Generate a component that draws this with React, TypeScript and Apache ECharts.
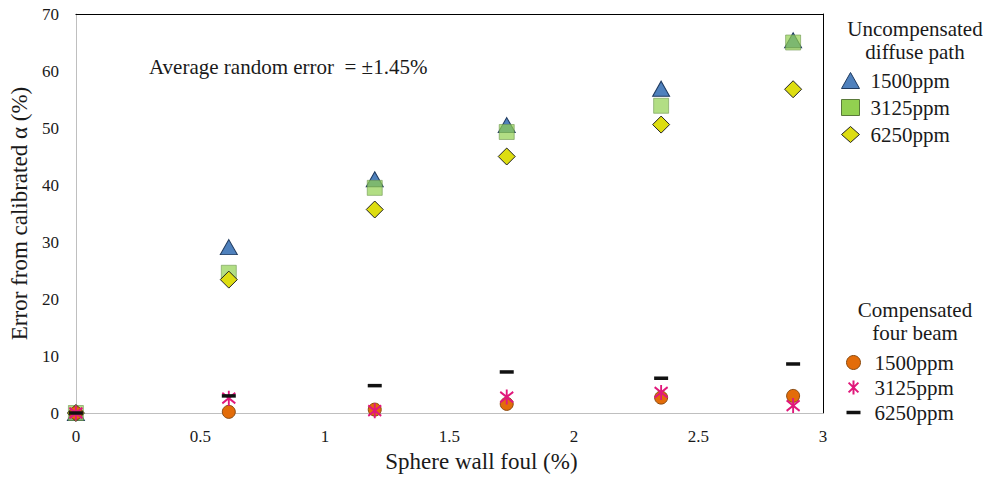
import React, { useEffect, useRef } from 'react';
import * as echarts from 'echarts';

const foul = [0, 0.614, 1.2, 1.73, 2.35, 2.88];
const uncomp1500 = [0, 29.1, 41.0, 50.5, 56.9, 65.4];
const uncomp3125 = [0, 24.6, 39.5, 49.3, 53.9, 65.0];
const uncomp6250 = [0, 23.4, 35.7, 45.0, 50.6, 56.8];
const comp1500 = [0, 0.2, 0.6, 1.6, 2.7, 3.0];
const comp3125 = [0, 2.6, 0.4, 2.8, 3.6, 1.3];
const comp6250 = [0, 3.0, 4.8, 7.2, 6.1, 8.6];

const uncompTitle = ['Uncompensated', 'diffuse path'];
const compTitle = ['Compensated', 'four beam'];
const noteText = 'Average random error  = ±1.45%';
const xTitle = 'Sphere wall foul (%)';
const yTitle = 'Error from calibrated α (%)';

const FONT = '"Liberation Serif", "Times New Roman", serif';
const STAR = 'path://M0,-10L0,10M-7,-7L7,7M-7,7L7,-7';
const DASH = 'path://M0,0L12,0L12,3L0,3Z';

const pts = (ys: number[]) => foul.map((x, i) => [x, ys[i]]);

export default function App() {
  const ref = useRef<HTMLDivElement>(null);
  useEffect(() => {
    if (!ref.current) return;
    document.body.style.margin = '0';
    const chart = echarts.init(ref.current, null, { renderer: 'svg' });
    const labelStyle = { fontFamily: FONT, fontSize: 17, color: '#1a1a1a' };
    const titleStyle = { fontFamily: FONT, fontSize: 21, fill: '#1a1a1a', align: 'center', verticalAlign: 'middle' };
    chart.setOption({
      animation: false,
      backgroundColor: '#fff',
      grid: { left: 71, top: 14, right: 164, bottom: 66 },
      xAxis: [
        {
          type: 'value', min: 0, max: 3, interval: 0.5, position: 'bottom',
          name: xTitle, nameLocation: 'middle', nameGap: 37,
          nameTextStyle: { fontFamily: FONT, fontSize: 23, color: '#1a1a1a', padding: [0, 0, 0, 64] },
          axisLine: { show: true, onZero: false, lineStyle: { color: '#bfbfbf', width: 1 } },
          axisTick: { show: false },
          axisLabel: { ...labelStyle, margin: 15 },
          splitLine: { show: false },
        },
        {
          type: 'value', min: 0, max: 3, position: 'top',
          axisLine: { show: true, onZero: false, lineStyle: { color: '#000', width: 1 } },
          axisTick: { show: false }, axisLabel: { show: false }, splitLine: { show: false },
        },
      ],
      yAxis: [
        {
          type: 'value', min: 0, max: 70, interval: 10, position: 'left',
          name: yTitle, nameLocation: 'middle', nameGap: 36,
          nameTextStyle: { fontFamily: FONT, fontSize: 23, color: '#1a1a1a' },
          axisLine: { show: true, onZero: false, lineStyle: { color: '#bfbfbf', width: 1 } },
          axisTick: { show: false },
          axisLabel: { ...labelStyle, margin: 17 },
          splitLine: { show: false },
        },
        {
          type: 'value', min: 0, max: 70, position: 'right',
          axisLine: { show: true, onZero: false, lineStyle: { color: '#000', width: 1 } },
          axisTick: { show: false }, axisLabel: { show: false }, splitLine: { show: false },
        },
      ],
      legend: [
        {
          orient: 'vertical', left: 841, top: 70, padding: 0,
          itemWidth: 18, itemHeight: 16, itemGap: 6,
          selectedMode: false,
          textStyle: { fontFamily: FONT, fontSize: 21, lineHeight: 20, color: '#1a1a1a', padding: [0, 0, 0, 6] },
          formatter: (n: string) => n.split(' ')[0],
          data: [
            { name: '1500ppm uncomp', itemStyle: { borderWidth: 1 } },
            { name: '3125ppm uncomp', itemStyle: { color: '#92D050', borderColor: '#5a7a3a', borderWidth: 1 } },
            { name: '6250ppm uncomp', itemStyle: { borderWidth: 1 } },
          ],
        },
        {
          orient: 'vertical', left: 846, top: 352, padding: 0,
          itemWidth: 14, itemHeight: 14, itemGap: 4,
          selectedMode: false,
          textStyle: { fontFamily: FONT, fontSize: 21, lineHeight: 20, color: '#1a1a1a', padding: [0, 0, 0, 9] },
          formatter: (n: string) => n.split(' ')[0],
          data: [
            { name: '1500ppm comp', itemStyle: { borderWidth: 1 } },
            { name: '3125ppm comp', icon: STAR, itemStyle: { color: 'transparent', borderColor: '#E0187B', borderWidth: 2 } },
            { name: '6250ppm comp', icon: DASH, itemStyle: { color: '#111', borderWidth: 0 } },
          ],
        },
      ],
      graphic: [
        { type: 'text', x: 149, y: 67, style: { text: noteText, fontFamily: FONT, fontSize: 21, fill: '#1a1a1a', verticalAlign: 'middle' } },
        { type: 'text', x: 915, y: 29, style: { text: uncompTitle[0], ...titleStyle } },
        { type: 'text', x: 915, y: 52, style: { text: uncompTitle[1], ...titleStyle } },
        { type: 'text', x: 915, y: 310, style: { text: compTitle[0], ...titleStyle } },
        { type: 'text', x: 915, y: 333, style: { text: compTitle[1], ...titleStyle } },
      ],
      series: [
        {
          name: '1500ppm uncomp', type: 'scatter', data: pts(uncomp1500),
          symbol: 'triangle', symbolSize: [17, 15],
          itemStyle: { color: '#4F81BD', borderColor: '#1F3A5F', borderWidth: 1, opacity: 1 },
        },
        {
          name: '3125ppm uncomp', type: 'scatter', data: pts(uncomp3125),
          symbol: 'rect', symbolSize: [15, 15],
          itemStyle: { color: 'rgba(146,208,80,0.7)', borderColor: 'rgba(110,150,80,0.6)', borderWidth: 1, opacity: 1 },
        },
        {
          name: '6250ppm uncomp', type: 'scatter', data: pts(uncomp6250),
          symbol: 'diamond', symbolSize: [17, 17],
          itemStyle: { color: '#DDDD11', borderColor: '#222', borderWidth: 1, opacity: 1 },
        },
        {
          name: '1500ppm comp', type: 'scatter', data: pts(comp1500),
          symbol: 'circle', symbolSize: 13,
          itemStyle: { color: '#E36C09', borderColor: '#8a4a10', borderWidth: 1, opacity: 1 },
        },
        {
          name: '3125ppm comp', type: 'scatter', data: pts(comp3125),
          symbol: STAR, symbolSize: [13, 15],
          itemStyle: { color: 'transparent', borderColor: '#E0187B', borderWidth: 2, opacity: 1 },
        },
        {
          name: '6250ppm comp', type: 'scatter', data: pts(comp6250),
          symbol: 'rect', symbolSize: [14, 3.5],
          itemStyle: { color: '#111', opacity: 1 },
        },
      ],
    });
    return () => chart.dispose();
  }, []);
  return <div ref={ref} style={{ width: 987, height: 479 }} />;
}
